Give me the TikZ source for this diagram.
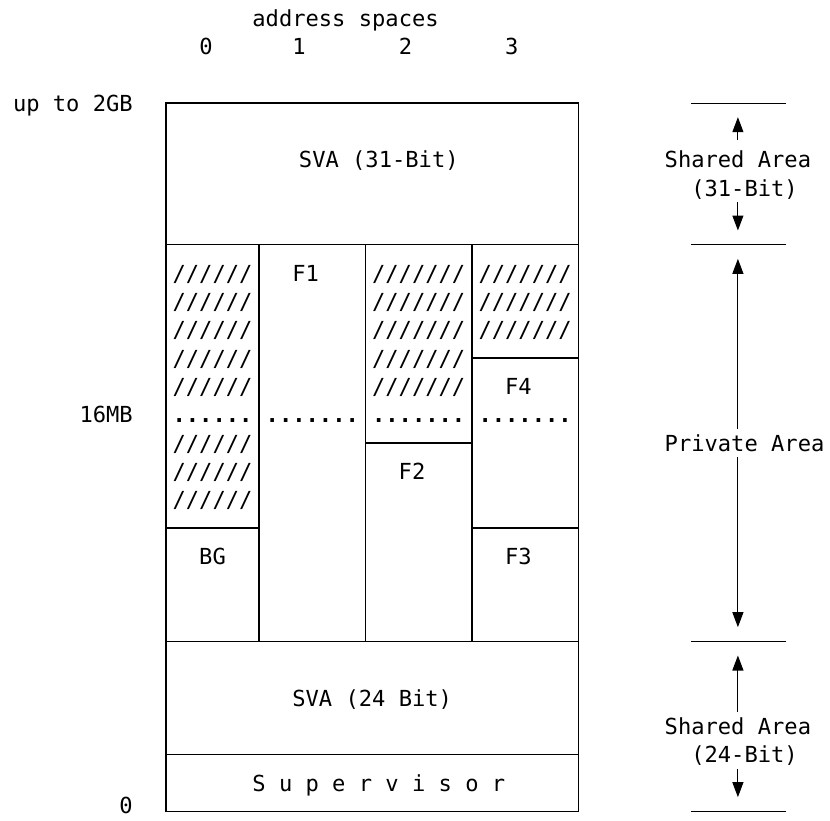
\documentclass[tikz,border=0pt]{standalone}
\usepackage{fontspec}
\setmonofont{DejaVu Sans Mono}
\usetikzlibrary{arrows.meta}
\tikzset{
  txt/.style={font=\fontsize{22.1pt}{28pt}\selectfont\ttfamily, inner sep=0pt, anchor=base, yshift=-8pt},
  dots/.style={txt, font=\fontsize{22.1pt}{28pt}\selectfont\ttfamily\bfseries},
  frame/.style={line width=1.4pt, line cap=rect},
  tick/.style={line width=1pt},
  arr/.style={line width=1.1pt, -{Triangle[width=11pt,length=15pt]}},
}
\begin{document}
\begin{tikzpicture}
\useasboundingbox (0pt,0pt) rectangle (830pt,-820pt);
\begin{scope}[x=13.3pt, y=-28.333pt, shift={(166pt,-103pt)}]
  % header
  \node[txt] (hdr) at (13.5,-3) {address spaces};
  \node[txt] (as0) at (3,-2) {0};
  \node[txt] (as1) at (10,-2) {1};
  \node[txt] (as2) at (18,-2) {2};
  \node[txt] (as3) at (26,-2) {3};
  % left labels
  \node[txt] (l2gb) at (-7,0) {up to 2GB};
  \node[txt] (l16) at (-4.5,11) {16MB};
  \node[txt] (l0) at (-3,24.8) {0};
  % frame
  \draw[frame] (0,0) rectangle (31,25);
  \draw[frame] (0,5) -- (31,5);
  \draw[frame] (0,19) -- (31,19);
  \draw[frame] (0,23) -- (31,23);
  \draw[frame] (7,5) -- (7,19);
  \draw[frame] (15,5) -- (15,19);
  \draw[frame] (23,5) -- (23,19);
  \draw[frame] (0,15) -- (7,15);
  \draw[frame] (15,12) -- (23,12);
  \draw[frame] (23,9) -- (31,9);
  \draw[frame] (23,15) -- (31,15);
  % box texts
  \node[txt] (sva31) at (16,2) {SVA (31-Bit)};
  \node[txt] (sva24) at (15.5,21) {SVA (24 Bit)};
  \node[txt] (sup) at (16,24) {S u p e r v i s o r};
  % column 0
  \foreach \r in {6,...,10,12,13,14} {\node[txt] (c0s\r) at (3.5,\r) {//////};}
  \node[dots] (c0d) at (3.5,11) {......};
  \node[txt] (bg) at (3.5,16) {BG};
  % column 1
  \node[txt] (f1) at (10.5,6) {F1};
  \node[dots] (c1d) at (11,11) {.......};
  % column 2
  \foreach \r in {6,...,10} {\node[txt] (c2s\r) at (19,\r) {///////};}
  \node[dots] (c2d) at (19,11) {.......};
  \node[txt] (f2) at (18.5,13) {F2};
  % column 3
  \foreach \r in {6,7,8} {\node[txt] (c3s\r) at (27,\r) {///////};}
  \node[txt] (f4) at (26.5,10) {F4};
  \node[dots] (c3d) at (27,11) {.......};
  \node[txt] (f3) at (26.5,16) {F3};
  % right side
  \draw[tick] (39.5,0) -- (46.6,0);
  \draw[tick] (39.5,5) -- (46.6,5);
  \draw[tick] (39.5,19) -- (46.6,19);
  \draw[tick] (39.5,25) -- (46.6,25);
  \node[txt] (sh31a) at (43,2) {Shared Area};
  \node[txt] (sh31b) at (43.5,3) {(31-Bit)};
  \node[txt] (priv) at (43.5,12) {Private Area};
  \node[txt] (sh24a) at (43,22) {Shared Area};
  \node[txt] (sh24b) at (43.5,23) {(24-Bit)};
  \coordinate (a1s) at (43,1.3);
  \coordinate (a1t) at (43,0.5);
  \coordinate (a2s) at (43,3.5);
  \coordinate (a2t) at (43,4.5);
  \coordinate (a3s) at (43,11.5);
  \coordinate (a3t) at (43,5.5);
  \coordinate (a4s) at (43,12.5);
  \coordinate (a4t) at (43,18.5);
  \coordinate (a5s) at (43,21.5);
  \coordinate (a5t) at (43,19.5);
  \coordinate (a6s) at (43,23.5);
  \coordinate (a6t) at (43,24.5);
  \draw[arr] (a1s) -- (a1t);
  \draw[arr] (a2s) -- (a2t);
  \draw[arr] (a3s) -- (a3t);
  \draw[arr] (a4s) -- (a4t);
  \draw[arr] (a5s) -- (a5t);
  \draw[arr] (a6s) -- (a6t);
\end{scope}
\end{tikzpicture}
\end{document}
